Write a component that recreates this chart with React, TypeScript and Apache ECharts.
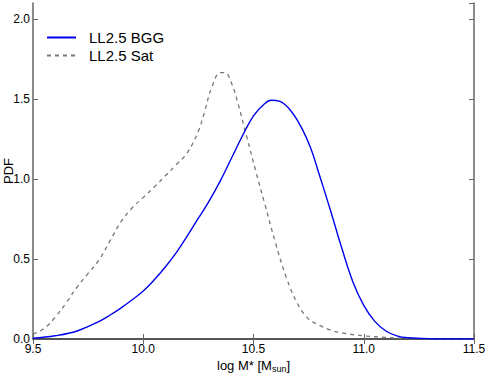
import React, { useEffect, useRef } from "react";
import * as echarts from "echarts";

const xTicks = [9.5, 10.0, 10.5, 11.0, 11.5];
const yTicks = [0.0, 0.5, 1.0, 1.5, 2.0];

const bggX = [9.5, 9.6, 9.7, 9.8, 9.85, 9.9, 9.95, 10.0, 10.05, 10.1, 10.15, 10.2, 10.25, 10.3, 10.35, 10.4, 10.45, 10.5, 10.55, 10.58, 10.62, 10.67, 10.72, 10.76, 10.8, 10.85, 10.9, 10.95, 11.0, 11.05, 11.1, 11.15, 11.2, 11.3, 11.5];
const bggY = [0.005, 0.02, 0.05, 0.11, 0.15, 0.195, 0.245, 0.3, 0.37, 0.45, 0.54, 0.645, 0.755, 0.865, 0.99, 1.13, 1.27, 1.395, 1.47, 1.492, 1.485, 1.425, 1.315, 1.19, 1.02, 0.8, 0.57, 0.36, 0.21, 0.11, 0.05, 0.02, 0.008, 0.002, 0.0];

const satX = [9.5, 9.55, 9.6, 9.65, 9.7, 9.75, 9.8, 9.85, 9.9, 9.95, 10.0, 10.05, 10.1, 10.15, 10.2, 10.25, 10.28, 10.31, 10.35, 10.37, 10.4, 10.43, 10.47, 10.51, 10.55, 10.6, 10.65, 10.7, 10.75, 10.8, 10.85, 10.9, 11.0, 11.1, 11.2, 11.3, 11.5];
const satY = [0.03, 0.065, 0.135, 0.225, 0.325, 0.41, 0.495, 0.615, 0.735, 0.82, 0.885, 0.95, 1.02, 1.09, 1.165, 1.3, 1.43, 1.57, 1.665, 1.665, 1.6, 1.47, 1.26, 1.05, 0.85, 0.6, 0.38, 0.22, 0.125, 0.085, 0.055, 0.038, 0.02, 0.01, 0.004, 0.001, 0.0];

const seriesNames = ["LL2.5 BGG", "LL2.5 Sat"];

const FONT = "Liberation Sans, Arial, Helvetica, sans-serif";
const FRAME = "#666";

export default function App() {
  const ref = useRef<HTMLDivElement>(null);
  useEffect(() => {
    if (!ref.current) return;
    const chart = echarts.init(ref.current, undefined, { renderer: "svg" });
    const axisLine = { show: true, lineStyle: { color: FRAME, width: 1.5 } };
    const axisTick = { show: true, inside: true, length: 5, lineStyle: { color: FRAME, width: 1 } };
    const xBase = { type: "value", min: xTicks[0], max: xTicks[xTicks.length - 1], interval: 0.5, splitLine: { show: false } };
    const yBase = { type: "value", min: yTicks[0], max: 2.1, interval: 0.5, splitLine: { show: false } };
    chart.setOption({
      animation: false,
      backgroundColor: "#fff",
      grid: { left: 33, right: 15, top: 3, bottom: 35, containLabel: false, outerBoundsMode: "none" },
      legend: {
        orient: "vertical",
        left: 46,
        top: 30,
        padding: 0,
        itemWidth: 29,
        itemHeight: 14,
        itemGap: 3,
        data: seriesNames,
        itemStyle: { opacity: 0 },
        textStyle: { fontSize: 15, fontFamily: FONT, color: "#000", lineHeight: 14, padding: [0, 0, 0, 8] },
      },
      xAxis: [
        {
          ...xBase,
          position: "bottom",
          axisLine,
          axisTick,
          axisLabel: {
            fontSize: 12,
            fontFamily: FONT,
            color: "#000",
            margin: 4,
            formatter: (v: number) => v.toFixed(1),
          },
          name: "log M* [M{sub|sun}]",
          nameLocation: "middle",
          nameGap: 19,
          nameMoveOverlap: false,
          nameTextStyle: {
            fontSize: 13,
            fontFamily: FONT,
            color: "#000",
            rich: { sub: { fontSize: 9, fontFamily: FONT, color: "#000", padding: [6, 0, 0, 0] } },
          },
        },
        {
          ...xBase,
          position: "top",
          axisLine: { show: true, lineStyle: { color: "#444", width: 1.5 } },
          axisTick,
          axisLabel: { show: false },
        },
      ],
      yAxis: [
        {
          ...yBase,
          position: "left",
          axisLine,
          axisTick,
          axisLabel: {
            fontSize: 12,
            fontFamily: FONT,
            color: "#000",
            margin: 3,
            showMaxLabel: false,
            formatter: (v: number) => v.toFixed(1),
          },
          name: "PDF",
          nameLocation: "middle",
          nameGap: 18,
          nameMoveOverlap: false,
          nameTextStyle: { fontSize: 13, fontFamily: FONT, color: "#000" },
        },
        {
          ...yBase,
          position: "right",
          axisLine,
          axisTick,
          axisLabel: { show: false },
        },
      ],
      series: [
        {
          name: seriesNames[0],
          type: "line",
          xAxisIndex: 0,
          yAxisIndex: 0,
          data: bggX.map((x, i) => [x, bggY[i]]),
          smooth: 0.4,
          symbol: "none",
          lineStyle: { color: "#0000ee", width: 1.4, type: "solid" },
          itemStyle: { color: "#0000ee" },
          z: 3,
        },
        {
          name: seriesNames[1],
          type: "line",
          xAxisIndex: 0,
          yAxisIndex: 0,
          data: satX.map((x, i) => [x, satY[i]]),
          smooth: 0.4,
          symbol: "none",
          lineStyle: { color: "#777", width: 1.3, type: [4, 4] },
          itemStyle: { color: "#777" },
          z: 2,
        },
      ],
    });
    return () => chart.dispose();
  }, []);
  return (
    <div
      ref={ref}
      style={{ position: "fixed", left: 0, top: 0, width: 489, height: 374, background: "#fff" }}
    />
  );
}
